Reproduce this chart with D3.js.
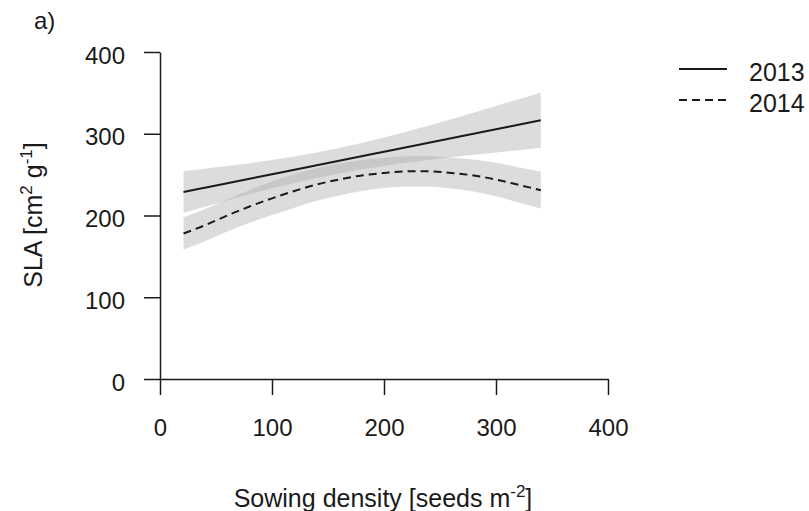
<!DOCTYPE html>
<html>
<head>
<meta charset="utf-8">
<script src="https://cdn.jsdelivr.net/npm/d3@7"></script>
<style>
  html, body { margin: 0; padding: 0; background: #fff; }
  svg { display: block; }
  text { font-family: "Liberation Sans", Arial, sans-serif; fill: #1a1a1a; }
</style>
</head>
<body>
<svg id="chart" width="809" height="511"></svg>
<script>
// Sowing density (seeds m-2) at which the fitted curves are evaluated
const densities = [21, 40, 60, 80, 100, 120, 140, 160, 180, 200, 220, 240, 260, 280, 300, 320, 340];

// 2013: linear fit with 95% confidence band
const fit2013   = [228.8, 234.0, 239.5, 245.0, 250.5, 256.0, 261.5, 267.0, 272.5, 278.0, 283.5, 289.0, 294.5, 300.0, 305.5, 311.0, 316.5];
const upper2013 = [254.5, 257.3, 260.5, 264.0, 267.8, 272.1, 277.0, 282.5, 288.6, 295.3, 302.5, 310.0, 317.8, 325.8, 334.0, 342.2, 350.5];
const lower2013 = [203.1, 210.7, 218.5, 226.0, 233.2, 239.9, 246.0, 251.5, 256.4, 260.7, 264.5, 268.0, 271.2, 274.2, 277.0, 279.8, 282.5];

// 2014: quadratic fit with 95% confidence band
const fit2014   = [178.0, 188.0, 200.0, 211.0, 221.0, 230.0, 238.0, 244.0, 249.0, 252.0, 254.0, 254.0, 252.0, 249.0, 244.0, 237.5, 231.0];
const upper2014 = [197.8, 207.5, 219.5, 231.0, 241.5, 250.5, 258.0, 263.5, 268.0, 270.5, 272.5, 272.5, 271.0, 268.5, 264.5, 259.0, 253.4];
const lower2014 = [158.2, 168.5, 180.5, 191.0, 200.5, 209.5, 218.0, 224.5, 230.0, 233.5, 235.5, 235.5, 233.0, 229.5, 223.5, 216.0, 208.6];

const years = ["2013", "2014"];
const xTicks = [0, 100, 200, 300, 400];
const yTicks = [0, 100, 200, 300, 400];

const svg = d3.select("#chart");
svg.append("rect").attr("width", 809).attr("height", 511).attr("fill", "#fff");

const x = d3.scaleLinear().domain([0, 400]).range([160, 608]);
const y = d3.scaleLinear().domain([0, 400]).range([379, 52]);

const series = [
  { year: years[0], fit: fit2013, lo: lower2013, hi: upper2013, dash: null },
  { year: years[1], fit: fit2014, lo: lower2014, hi: upper2014, dash: "8,5" }
];

// confidence bands (translucent grey, darker where they overlap)
const band = d3.area()
  .x(d => x(d.x))
  .y0(d => y(d.lo))
  .y1(d => y(d.hi))
  .curve(d3.curveMonotoneX);

series.forEach(s => {
  const pts = densities.map((d, i) => ({ x: d, lo: s.lo[i], hi: s.hi[i] }));
  svg.append("path")
    .datum(pts)
    .attr("d", band)
    .attr("fill", "rgb(173,173,173)")
    .attr("fill-opacity", 0.43);
});

// fitted lines
const line = d3.line()
  .x(d => x(d.x))
  .y(d => y(d.v))
  .curve(d3.curveMonotoneX);

series.forEach(s => {
  const pts = densities.map((d, i) => ({ x: d, v: s.fit[i] }));
  svg.append("path")
    .datum(pts)
    .attr("d", line)
    .attr("fill", "none")
    .attr("stroke", "#1a1a1a")
    .attr("stroke-width", 2)
    .attr("stroke-dasharray", s.dash);
});

// axes
const xAxis = d3.axisBottom(x).tickValues(xTicks).tickSize(16).tickSizeOuter(0).tickPadding(22);
const yAxis = d3.axisLeft(y).tickValues(yTicks).tickSize(16).tickSizeOuter(0).tickPadding(18);

const gx = svg.append("g").attr("transform", "translate(0,379)").call(xAxis);
const gy = svg.append("g").attr("transform", "translate(160,0)").call(yAxis);

[gx, gy].forEach(g => {
  g.select(".domain").attr("stroke", "#1a1a1a").attr("stroke-width", 1.5);
  g.selectAll(".tick line").attr("stroke", "#1a1a1a").attr("stroke-width", 1.5);
  g.selectAll(".tick text")
    .attr("font-family", "Liberation Sans, Arial, sans-serif")
    .attr("font-size", 24)
    .attr("fill", "#1a1a1a");
});
gx.selectAll(".tick text").attr("dy", null).attr("y", 57);
gy.selectAll(".tick text").attr("dy", null).attr("y", 11).attr("x", -35);

// axis titles
const xTitle = svg.append("text")
  .attr("x", 383).attr("y", 507)
  .attr("text-anchor", "middle")
  .attr("font-size", 25);
xTitle.append("tspan").text("Sowing density [seeds m");
xTitle.append("tspan").attr("font-size", 17).attr("dy", -10).text("-2");
xTitle.append("tspan").attr("dy", 10).text("]");

const yTitle = svg.append("text")
  .attr("transform", "translate(42,215) rotate(-90)")
  .attr("text-anchor", "middle")
  .attr("font-size", 25);
yTitle.append("tspan").text("SLA [cm");
yTitle.append("tspan").attr("font-size", 17).attr("dy", -10).text("2");
yTitle.append("tspan").attr("dy", 10).text(" g");
yTitle.append("tspan").attr("font-size", 17).attr("dy", -10).text("-1");
yTitle.append("tspan").attr("dy", 10).text("]");

// panel label
svg.append("text").attr("x", 34).attr("y", 29).attr("font-size", 24).text("a)");

// legend
const legend = svg.append("g");
series.forEach((s, i) => {
  const ly = 69 + i * 31;
  legend.append("line")
    .attr("x1", 679).attr("x2", 727)
    .attr("y1", ly).attr("y2", ly)
    .attr("stroke", "#1a1a1a")
    .attr("stroke-width", 2)
    .attr("stroke-dasharray", s.dash);
  legend.append("text")
    .attr("x", 749).attr("y", ly + 12)
    .attr("font-size", 25)
    .text(s.year);
});
</script>
</body>
</html>
